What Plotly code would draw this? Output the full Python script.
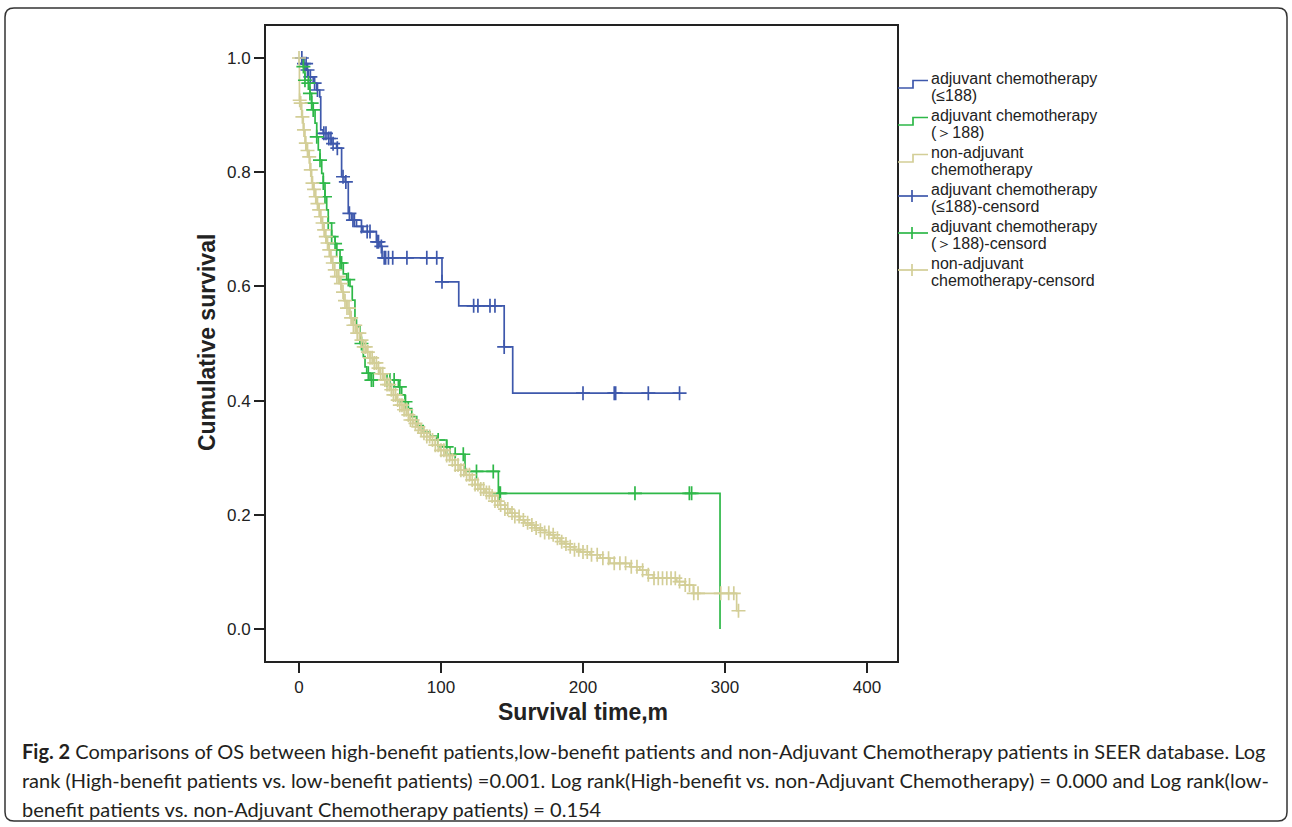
import plotly.graph_objects as go

# ---------------- data ----------------
# adjuvant chemotherapy (<=188): event times (months) and survival after each event
blue_t = [0, 3, 5.4, 6.6, 10, 12.5, 14.6, 15.3, 17, 20.5, 23, 26.5, 30, 32.5, 34.7,
          37, 40.5, 45, 54.5, 57, 58.5, 100.7, 112.5, 144.5, 150.5]
blue_s = [1.0, 0.99, 0.979, 0.967, 0.956, 0.944, 0.932, 0.874, 0.868, 0.859, 0.850,
          0.842, 0.792, 0.783, 0.728, 0.716, 0.705, 0.696, 0.678, 0.670, 0.650,
          0.608, 0.566, 0.494, 0.413]
blue_end = 268
blue_cens = [2, 3.5, 5, 6, 8, 11, 13, 17.5, 19, 21, 22.5, 24, 27, 31, 33, 35.5, 38, 39,
             44, 48, 50, 55, 56, 58, 60, 61, 63, 66, 76, 90, 97, 100.7, 123, 126, 134.5,
             138, 144.5, 200, 222, 223, 246, 268]

# adjuvant chemotherapy (>188)
green_t = [0, 3, 4.2, 6.6, 7.7, 8.9, 10, 11.3, 12.5, 13.6, 14.8, 16, 17.1, 18.3, 19.5,
           20.6, 23, 25.4, 26.5, 28.9, 31.2, 33.6, 35.9, 37.5, 39.4, 40.5, 42.9, 45.3,
           46.5, 47.7, 50, 70, 72.3, 74.6, 77, 79.4, 82.9, 87.5, 92.3, 97, 104, 106.3,
           116.9, 140.4, 296.5]
green_s = [1.0, 0.985, 0.961, 0.956, 0.938, 0.921, 0.909, 0.886, 0.862, 0.839, 0.821,
           0.798, 0.781, 0.757, 0.734, 0.711, 0.687, 0.675, 0.664, 0.641, 0.622, 0.612,
           0.600, 0.576, 0.541, 0.529, 0.500, 0.477, 0.459, 0.448, 0.436, 0.424, 0.410,
           0.398, 0.386, 0.372, 0.356, 0.345, 0.338, 0.331, 0.319, 0.306, 0.276, 0.2376,
           0.0]
green_end = 296.5
green_cens = [3.1, 4.2, 6.6, 7.7, 8.9, 10, 12.5, 14.8, 17.1, 18.3, 20.6, 23, 25.4, 26.5,
              28.9, 30, 34.7, 44, 48.8, 51, 52.3, 62, 64, 67, 71, 75, 98, 104, 110, 115.7,
              125, 136.8, 141, 141.8, 236.6, 274.9, 276.5]

# non-adjuvant chemotherapy
tan_t = [0, 0.3, 0.7, 1.9, 3.0, 4.2, 5.5, 6.6, 7.7, 8.9, 10, 11.3, 12.5, 13.6, 14.8,
         16.0, 17.2, 18.3, 19.5, 20.7, 22, 23, 24.8, 26.5, 28.3, 30.1, 31.5, 33.6, 35.9,
         38, 40.6, 43, 45.3, 47.7, 50, 52.3, 54.7, 57, 59.4, 61.7, 64.1, 66.5, 68.8, 71,
         73.5, 76, 78.2, 80.5, 82.9, 85, 87.5, 90, 92.3, 96, 99.3, 103, 106.3, 110,
         113.4, 117, 120.4, 124, 127.5, 131, 134.5, 138, 141.5, 145, 148.6, 152, 155.6,
         159, 162.7, 166, 169.7, 173, 176.8, 180, 183.8, 187, 190.8, 194, 197.9, 204.9,
         212, 219, 233, 240, 244.8, 249.5, 266, 271.8, 277.7, 308.2]
tan_s = [1.0, 0.926, 0.921, 0.897, 0.874, 0.851, 0.838, 0.827, 0.804, 0.781, 0.770,
         0.757, 0.745, 0.734, 0.722, 0.711, 0.699, 0.687, 0.676, 0.664, 0.652, 0.641,
         0.629, 0.617, 0.605, 0.590, 0.575, 0.562, 0.545, 0.532, 0.518, 0.506, 0.494,
         0.485, 0.475, 0.466, 0.457, 0.447, 0.436, 0.428, 0.419, 0.410, 0.401, 0.392,
         0.384, 0.375, 0.366, 0.360, 0.354, 0.348, 0.343, 0.337, 0.331, 0.322, 0.313,
         0.304, 0.296, 0.287, 0.278, 0.270, 0.261, 0.253, 0.245, 0.239, 0.233, 0.224,
         0.217, 0.210, 0.203, 0.197, 0.191, 0.186, 0.182, 0.177, 0.173, 0.169, 0.165,
         0.159, 0.153, 0.149, 0.144, 0.139, 0.135, 0.130, 0.124, 0.115, 0.109, 0.103,
         0.095, 0.089, 0.083, 0.077, 0.0625, 0.032]
tan_end = 309.5
tan_cens = [0.0, 0.5, 1.2, 2.4, 3.5, 4.8, 6, 7.2, 8.3, 9.5, 10.6, 11.8, 13, 14.2, 15.4,
            16.6, 17.7, 18.9, 20.1, 21.3, 22.5, 23.8, 25.2, 26.7, 28, 29.5, 31, 32.4,
            33.8, 35.2, 36.7, 38.3, 39.6, 41, 42.5, 44, 45.6, 47, 48.5, 50, 51.5, 53,
            54.5, 56, 57.5, 59, 60.5, 62, 63.5, 65, 66.5, 68, 69.5, 71, 72.5, 74, 75.5,
            77, 78.5, 80, 82, 84, 86, 88, 90, 92, 94, 96, 98, 100, 102, 104, 106, 108,
            110, 112, 114, 116, 118, 120, 122, 124, 126, 128, 130, 132, 134, 136, 138,
            140, 142, 145, 147, 150, 152, 155, 158, 161, 164, 167, 170, 173, 176, 179,
            182, 185, 188, 191, 194, 197, 200, 203, 206, 210, 214, 218, 222, 226, 230,
            234, 238, 242, 246, 250, 253, 256, 259, 262, 265, 268, 272, 275, 278, 281,
            297, 302.6, 306.2, 309.5]

x_ticks = [0, 100, 200, 300, 400]
y_ticks = [0.0, 0.2, 0.4, 0.6, 0.8, 1.0]
y_tick_text = ["0.0", "0.2", "0.4", "0.6", "0.8", "1.0"]

legend_lines = [
    ("adjuvant chemotherapy", "(≤188)"),
    ("adjuvant chemotherapy", "(＞188)"),
    ("non-adjuvant", "chemotherapy"),
    ("adjuvant chemotherapy", "(≤188)-censord"),
    ("adjuvant chemotherapy", "(＞188)-censord"),
    ("non-adjuvant", "chemotherapy-censord"),
]

caption_lines = [
    "<b>Fig. 2</b> Comparisons of OS between high-benefit patients,low-benefit patients and non-Adjuvant Chemotherapy patients in SEER database. Log",
    "rank (High-benefit patients vs. low-benefit patients) =0.001. Log rank(High-benefit vs. non-Adjuvant Chemotherapy) = 0.000 and Log rank(low-",
    "benefit patients vs. non-Adjuvant Chemotherapy patients) = 0.154",
]

BLUE = "#3E58AC"
GREEN = "#2EB848"
TAN = "#D3CE97"
colors = [BLUE, GREEN, TAN]
FONT = "Liberation Sans, Arial"

# ---------------- helpers ----------------
W, H = 1292, 827
L, R, T, B = 266, 897, 26, 661


def px(xp):
    return (xp - L) / (R - L)


def py(yp):
    return (B - yp) / (B - T)


def surv_at(times, survs, t):
    v = survs[0]
    for ti, si in zip(times, survs):
        if ti <= t:
            v = si
        else:
            break
    return v


fig = go.Figure()

series = [
    (blue_t, blue_s, blue_end, blue_cens, BLUE),
    (green_t, green_s, green_end, green_cens, GREEN),
    (tan_t, tan_s, tan_end, tan_cens, TAN),
]

for t, s, end, _, c in series:
    xs = list(t) + ([end] if end > t[-1] else [])
    ys = list(s) + ([s[-1]] if end > t[-1] else [])
    fig.add_trace(go.Scatter(x=xs, y=ys, mode="lines", line=dict(color=c, width=1.7, shape="hv"),
                             hoverinfo="skip", showlegend=False))

for t, s, end, cens, c in series:
    cy = [surv_at(t, s, ct) for ct in cens]
    fig.add_trace(go.Scatter(x=cens, y=cy, mode="markers",
                             marker=dict(symbol="cross-thin", size=10, color=c,
                                         line=dict(width=1.7, color=c)),
                             hoverinfo="skip", showlegend=False))

shapes = []
annotations = []

# legend (drawn manually to mimic SPSS step/censor icons)
for i, (l1, l2) in enumerate(legend_lines):
    c = colors[i % 3]
    if i < 3:
        lo = 88 + 37 * i
        hi = lo - 7.5
        path = "M {:.5f},{:.5f} L {:.5f},{:.5f} L {:.5f},{:.5f} L {:.5f},{:.5f}".format(
            px(898), py(lo), px(913), py(lo), px(913), py(hi), px(928), py(hi))
        shapes.append(dict(type="path", xref="paper", yref="paper", path=path,
                           line=dict(color=c, width=1.7)))
    else:
        yy = 196 + 37 * (i - 3)
        shapes.append(dict(type="line", xref="paper", yref="paper", x0=px(898), x1=px(928),
                           y0=py(yy), y1=py(yy), line=dict(color=c, width=1.7)))
        shapes.append(dict(type="line", xref="paper", yref="paper", x0=px(912), x1=px(912),
                           y0=py(yy - 6), y1=py(yy + 6), line=dict(color=c, width=1.7)))
    for j, txt in enumerate((l1, l2)):
        annotations.append(dict(text=txt, xref="paper", yref="paper", x=px(930),
                                y=py(78.5 + 37 * i + 17 * j), xanchor="left", yanchor="middle",
                                showarrow=False, borderpad=0,
                                font=dict(family=FONT, size=16, color="#222")))

# axis titles
annotations.append(dict(text="<b>Cumulative survival</b>", xref="paper", yref="paper",
                        x=px(207), y=py(343), textangle=-90, showarrow=False,
                        xanchor="center", yanchor="middle",
                        font=dict(family=FONT, size=23, color="#222")))
annotations.append(dict(text="<b>Survival time,m</b>", xref="paper", yref="paper",
                        x=px(583), y=py(712), showarrow=False, xanchor="center", yanchor="middle",
                        font=dict(family=FONT, size=23, color="#222")))

# caption
for k, line in enumerate(caption_lines):
    annotations.append(dict(text=line, xref="paper", yref="paper", x=px(20), y=py(751 + 29 * k),
                            xanchor="left", yanchor="middle", showarrow=False,
                            font=dict(family="Lato, Noto Sans", size=20, color="#231f20")))

# outer rounded frame
x0, x1, y0, y1, r = 5, 1287, 8, 821, 9
frame = ("M {a},{b} L {c},{b} Q {x1},{b} {x1},{d} L {x1},{e} Q {x1},{f} {c},{f} "
         "L {a},{f} Q {x0},{f} {x0},{e} L {x0},{d} Q {x0},{b} {a},{b} Z").format(
    a=px(x0 + r), b=py(y0), c=px(x1 - r), d=py(y0 + r), e=py(y1 - r), f=py(y1),
    x0=px(x0), x1=px(x1))
shapes.append(dict(type="path", xref="paper", yref="paper", path=frame,
                   line=dict(color="#333", width=1.5), layer="below"))

fig.update_layout(
    width=W, height=H,
    margin=dict(l=L, r=W - R, t=T, b=H - B, pad=0),
    paper_bgcolor="white", plot_bgcolor="white",
    showlegend=False,
    shapes=shapes, annotations=annotations,
    xaxis=dict(range=[(L - 299) / 1.42, (R - 299) / 1.42], tickvals=x_ticks,
               ticktext=[str(v) for v in x_ticks], ticks="outside", ticklen=10, tickwidth=1.8,
               tickcolor="#222", showline=True, linecolor="#222", linewidth=1.8, mirror=True,
               showgrid=False, zeroline=False,
               tickfont=dict(family=FONT, size=17, color="#222")),
    yaxis=dict(range=[-(B - 629) / 571, 1 + (58 - T) / 571], tickvals=y_ticks,
               ticktext=y_tick_text, ticks="outside", ticklen=10, tickwidth=1.8,
               tickcolor="#222", showline=True, linecolor="#222", linewidth=1.8, mirror=True,
               showgrid=False, zeroline=False,
               tickfont=dict(family=FONT, size=17, color="#222")),
)

fig.write_html("out.html", config={"displayModeBar": False},
               post_script="document.body.style.margin='0px';document.body.style.overflow='hidden';")
